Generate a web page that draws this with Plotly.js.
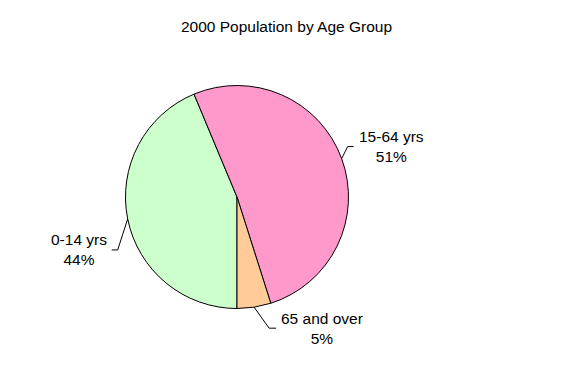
<!DOCTYPE html>
<html>
<head>
<meta charset="utf-8">
<script src="https://cdn.plot.ly/plotly-3.0.1.min.js"></script>
<style>html,body{margin:0;padding:0;background:#fff;}#chart{width:573px;height:366px;}</style>
</head>
<body>
<div id="chart"></div>
<script>
// ---- data ----
const titleText = '2000 Population by Age Group';
const labels = ['0-14 yrs', '15-64 yrs', '65 and over'];
const values = [43.7, 51.4, 4.9];
const colors = ['#CCFFCC', '#FF99CC', '#FFCC99'];

// ---- layout geometry (pixels) ----
const W = 573, H = 366;
const cx = 237, cy = 197, R = 111.5;
const startAngle = 180; // degrees clockwise from 12 o'clock
const FONT = 'Arial, "Liberation Sans", sans-serif';
const FS = 15.5;

// leader-line styling per slice: elbow offset from rim, horizontal length
const leader = [
  {ex: -10, ey: 31, h: -6},
  {ex: 6, ey: -12, h: 6},
  {ex: 15, ey: 21, h: 7}
];

const px = x => x / W;
const py = y => 1 - y / H;

const total = values.reduce((a, b) => a + b, 0);
const annotations = [];
const shapes = [];
let ang = startAngle;
values.forEach((v, i) => {
  const span = v / total * 360;
  const mid = (ang + span / 2) * Math.PI / 180;
  ang += span;
  const x0 = cx + R * Math.sin(mid), y0 = cy - R * Math.cos(mid);
  const L = leader[i];
  const x1 = x0 + L.ex, y1 = y0 + L.ey;
  const x2 = x1 + L.h;
  shapes.push({type: 'line', xref: 'paper', yref: 'paper', x0: px(x0), y0: py(y0), x1: px(x1), y1: py(y1), line: {color: '#000', width: 1}});
  shapes.push({type: 'line', xref: 'paper', yref: 'paper', x0: px(x1), y0: py(y1), x1: px(x2), y1: py(y1), line: {color: '#000', width: 1}});
  const pct = Math.round(v / total * 100);
  annotations.push({
    xref: 'paper', yref: 'paper',
    x: px(x2 + (L.h > 0 ? 3 : -3)), y: py(y1),
    xanchor: L.h > 0 ? 'left' : 'right', yanchor: 'middle',
    text: labels[i] + '<br>' + pct + '%',
    align: 'center', showarrow: false,
    font: {family: FONT, size: FS, color: '#000'}
  });
});

const trace = {
  type: 'pie',
  labels: labels,
  values: values,
  sort: false,
  direction: 'clockwise',
  rotation: startAngle,
  textinfo: 'none',
  hoverinfo: 'none',
  marker: {colors: colors, line: {color: '#000', width: 1}},
  domain: {x: [px(cx - R), px(cx + R)], y: [py(cy + R), py(cy - R)]},
  showlegend: false
};

const layout = {
  width: W, height: H,
  margin: {l: 0, r: 0, t: 0, b: 0},
  paper_bgcolor: '#fff', plot_bgcolor: '#fff',
  title: {text: titleText, x: 0.5, xref: 'paper', y: py(27), yref: 'paper', yanchor: 'middle', xanchor: 'center',
          font: {family: FONT, size: FS, color: '#000'}},
  showlegend: false,
  annotations: annotations,
  shapes: shapes
};

Plotly.newPlot('chart', [trace], layout, {displayModeBar: false, staticPlot: true});
</script>
</body>
</html>
